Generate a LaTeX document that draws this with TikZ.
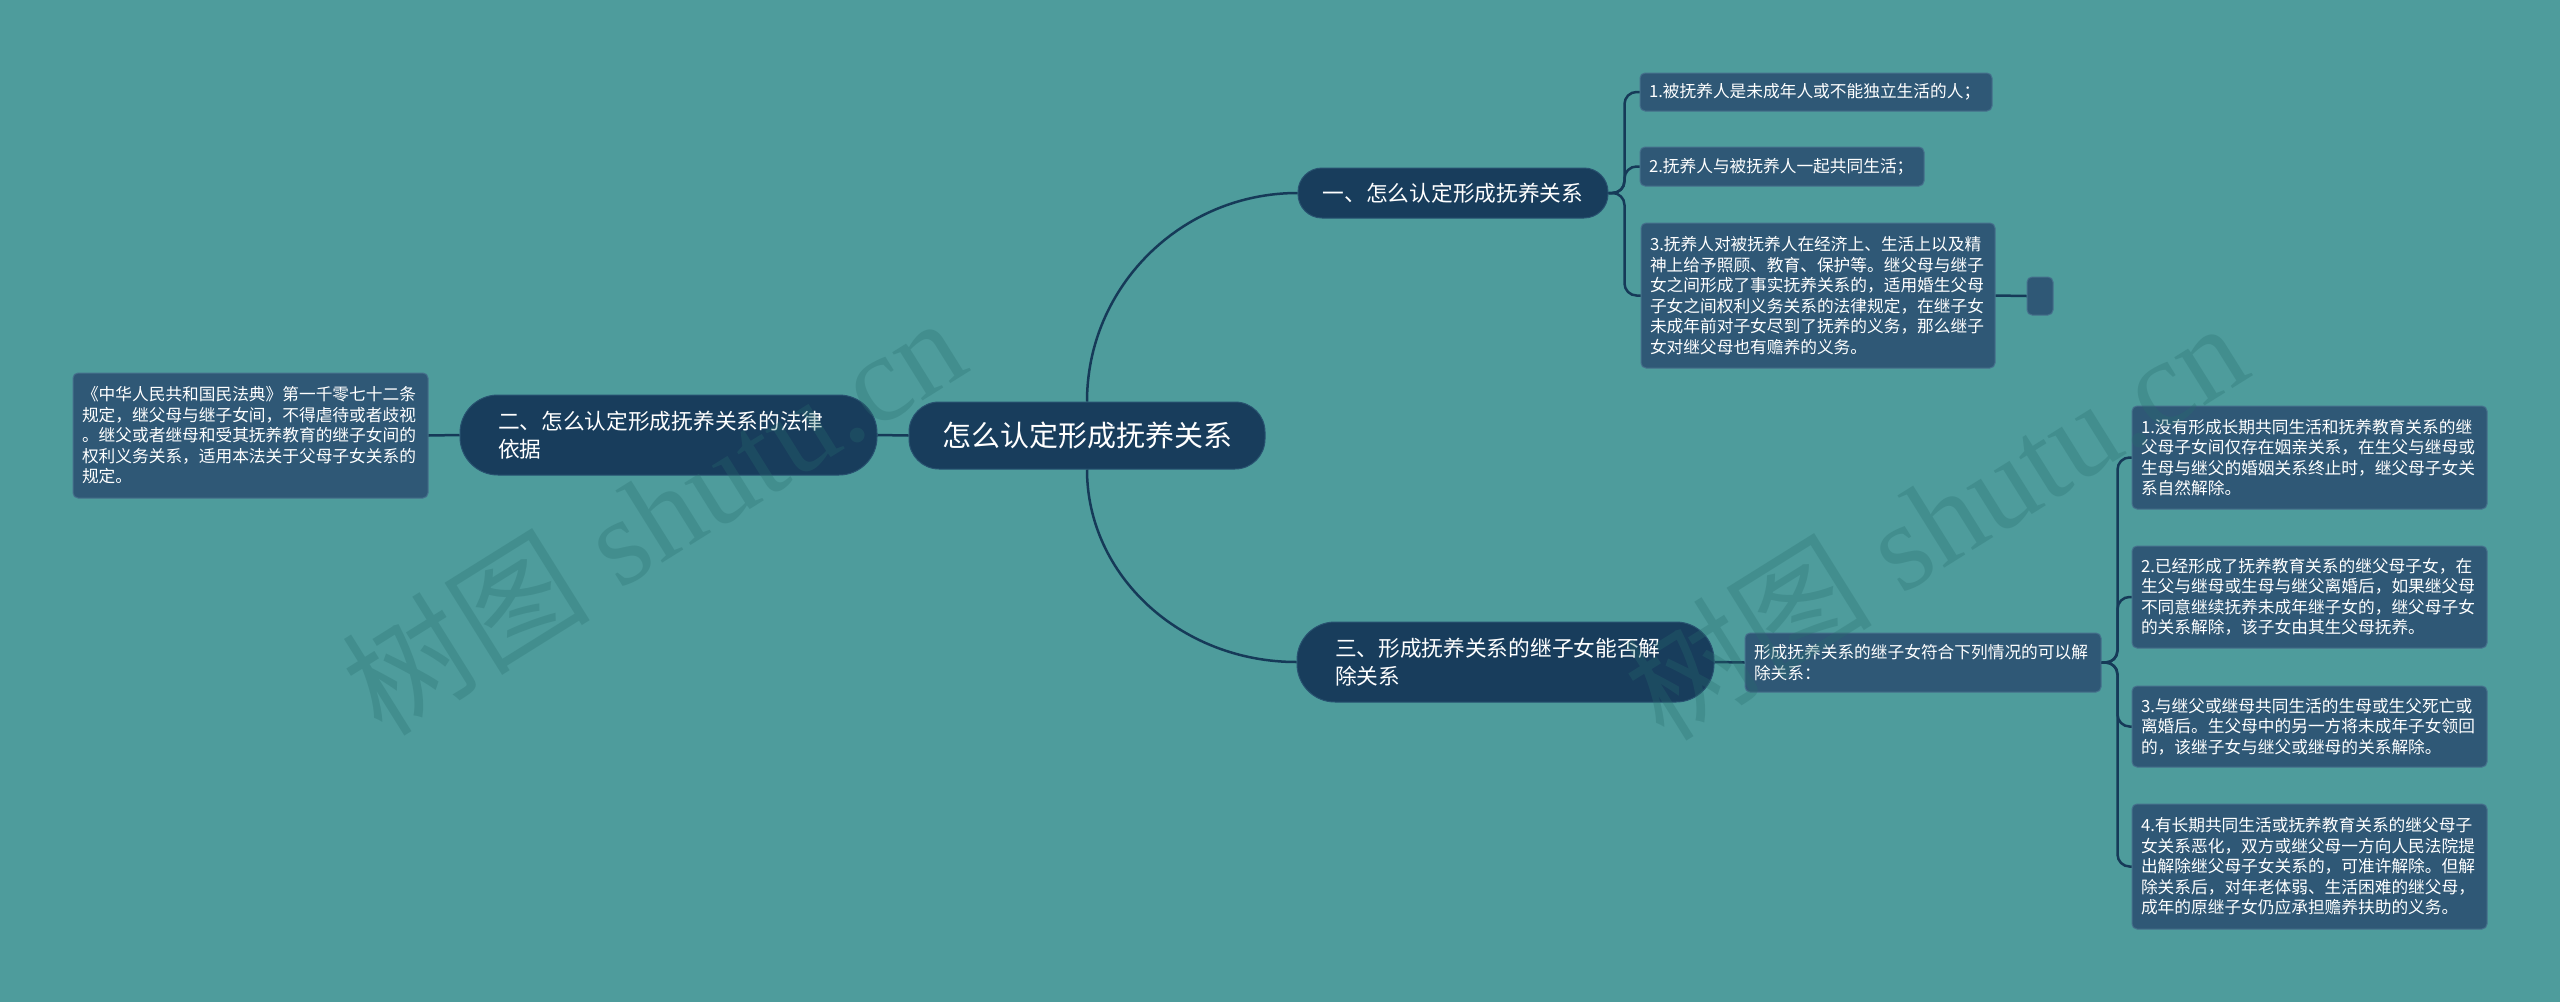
\documentclass[tikz,border=0pt]{standalone}
\usepackage{fontspec}
\setmainfont{Noto Sans CJK SC}
\newfontfamily\wmcjk{Noto Sans CJK SC}
\newfontfamily\wmlatin{Liberation Serif}
\definecolor{bgc}{RGB}{78,156,156}
\definecolor{darkc}{RGB}{24,61,92}
\definecolor{darkline}{RGB}{40,82,112}
\definecolor{leafc}{RGB}{47,88,118}
\definecolor{leafline}{RGB}{70,112,140}
\definecolor{linec}{RGB}{22,58,88}
\definecolor{wmc}{RGB}{40,110,110}
\newcommand\leaffont{\fontsize{8.35pt}{10.25pt}\selectfont}
\newcommand\branchfont{\fontsize{10.85pt}{14.3pt}\selectfont}
\newcommand\rootfont{\fontsize{14.5pt}{17pt}\selectfont}
\usetikzlibrary{positioning}
\begin{document}
\begin{tikzpicture}[x=0.5pt,y=-0.5pt,
  rootbox/.style={fill=darkc, draw=darkline, line width=0.5pt, rounded corners=15pt, text=white, font=\rootfont, align=center, inner sep=0pt, minimum width=178pt, minimum height=33.5pt},
  branchbox/.style={fill=darkc, draw=darkline, line width=0.5pt, text=white, font=\branchfont, inner sep=0pt},
  leafbox/.style={fill=leafc, draw=leafline, line width=0.5pt, rounded corners=2.5pt, text=white, font=\leaffont, align=left, inner xsep=4.5pt, inner ysep=1pt},
  conn/.style={draw=linec, line width=1.25pt},
  elbow/.style={conn, rounded corners=6pt},
  wm/.style={text=wmc, opacity=0.3, rotate=32, inner sep=0pt}
]
\useasboundingbox (0,0) rectangle (2560,1002);
\fill[bgc] (0,0) rectangle (2560,1002);

% nodes
\node[rootbox] (root) at (1087,435.5) {怎么认定形成抚养关系};
\node[branchbox, rounded corners=12pt, minimum width=155pt, minimum height=25pt, align=center] (b1) at (1453,193) {一、怎么认定形成抚养关系};
\node[branchbox, rounded corners=19pt, text width=170.5pt, inner xsep=19pt, minimum height=40pt, align=left] (b2) at (668.5,435) {二、怎么认定形成抚养关系的法律\\依据};
\node[branchbox, rounded corners=19pt, text width=170.5pt, inner xsep=19pt, minimum height=40pt, align=left] (b3) at (1505.5,662) {三、形成抚养关系的继子女能否解\\除关系};

\node[leafbox, text width=168.5pt, minimum height=62.5pt] (ll) at (250.5,435.5) {《中华人民共和国民法典》第一千零七十二条\\规定，继父母与继子女间，不得虐待或者歧视\\。继父或者继母和受其抚养教育的继子女间的\\权利义务关系，适用本法关于父母子女关系的\\规定。};

\node[leafbox, text width=167pt, minimum height=19pt] (l1) at (1816,92) {1.被抚养人是未成年人或不能独立生活的人；};
\node[leafbox, text width=133pt, minimum height=19.5pt] (l2) at (1782,166.5) {2.抚养人与被抚养人一起共同生活；};
\node[leafbox, text width=168pt, minimum height=72.5pt] (l3) at (1818,295.5) {3.抚养人对被抚养人在经济上、生活上以及精\\神上给予照顾、教育、保护等。继父母与继子\\女之间形成了事实抚养关系的，适用婚生父母\\子女之间权利义务关系的法律规定，在继子女\\未成年前对子女尽到了抚养的义务，那么继子\\女对继父母也有赡养的义务。};
\node[fill=leafc, draw=leafline, line width=0.5pt, rounded corners=2.5pt, inner sep=0pt, minimum width=13pt, minimum height=19pt] (e1) at (2040,296) {};

\node[leafbox, text width=169pt, minimum height=29.5pt] (mid) at (1923,662.5) {形成抚养关系的继子女符合下列情况的可以解\\除关系：};

\node[leafbox, text width=168.5pt, minimum height=51.5pt] (r1) at (2309.5,457.5) {1.没有形成长期共同生活和抚养教育关系的继\\父母子女间仅存在姻亲关系，在生父与继母或\\生母与继父的婚姻关系终止时，继父母子女关\\系自然解除。};
\node[leafbox, text width=168.5pt, minimum height=51pt] (r2) at (2309.5,597) {2.已经形成了抚养教育关系的继父母子女，在\\生父与继母或生母与继父离婚后，如果继父母\\不同意继续抚养未成年继子女的，继父母子女\\的关系解除，该子女由其生父母抚养。};
\node[leafbox, text width=168.5pt, minimum height=40.5pt] (r3) at (2309.5,726.5) {3.与继父或继母共同生活的生母或生父死亡或\\离婚后。生父母中的另一方将未成年子女领回\\的，该继子女与继父或继母的关系解除。};
\node[leafbox, text width=168.5pt, minimum height=62.5pt] (r4) at (2309.5,866.5) {4.有长期共同生活或抚养教育关系的继父母子\\女关系恶化，双方或继父母一方向人民法院提\\出解除继父母子女关系的，可准许解除。但解\\除关系后，对年老体弱、生活困难的继父母，\\成年的原继子女仍应承担赡养扶助的义务。};

% connectors
\draw[conn] (root.west) -- (b2.east);
\draw[conn] (b2.west) -- (ll.east);
\draw[conn] (root.north) .. controls +(0,-115) and +(-116,0) .. (b1.west);
\draw[conn] (root.south) .. controls +(0,106) and +(-116,0) .. (b3.west);
\draw[elbow] (b1.east) -- ++(16,0) |- (l1.west);
\draw[elbow] (b1.east) -- ++(16,0) |- (l2.west);
\draw[elbow] (b1.east) -- ++(16,0) |- (l3.west);
\draw[conn] (l3.east) -- (e1.west);
\draw[conn] (b3.east) -- (mid.west);
\draw[elbow] (mid.east) -- ++(16,0) |- (r1.west);
\draw[elbow] (mid.east) -- ++(16,0) |- (r2.west);
\draw[elbow] (mid.east) -- ++(16,0) |- (r3.west);
\draw[elbow] (mid.east) -- ++(16,0) |- (r4.west);

% watermarks
\node[wm] (wm1) at (653,514) {\fontsize{62pt}{62pt}\selectfont\wmcjk 树图\wmlatin{} shutu.cn};
\node[wm] (wm2) at (1935,519) {\fontsize{62pt}{62pt}\selectfont\wmcjk 树图\wmlatin{} shutu.cn};
\end{tikzpicture}
\end{document}
